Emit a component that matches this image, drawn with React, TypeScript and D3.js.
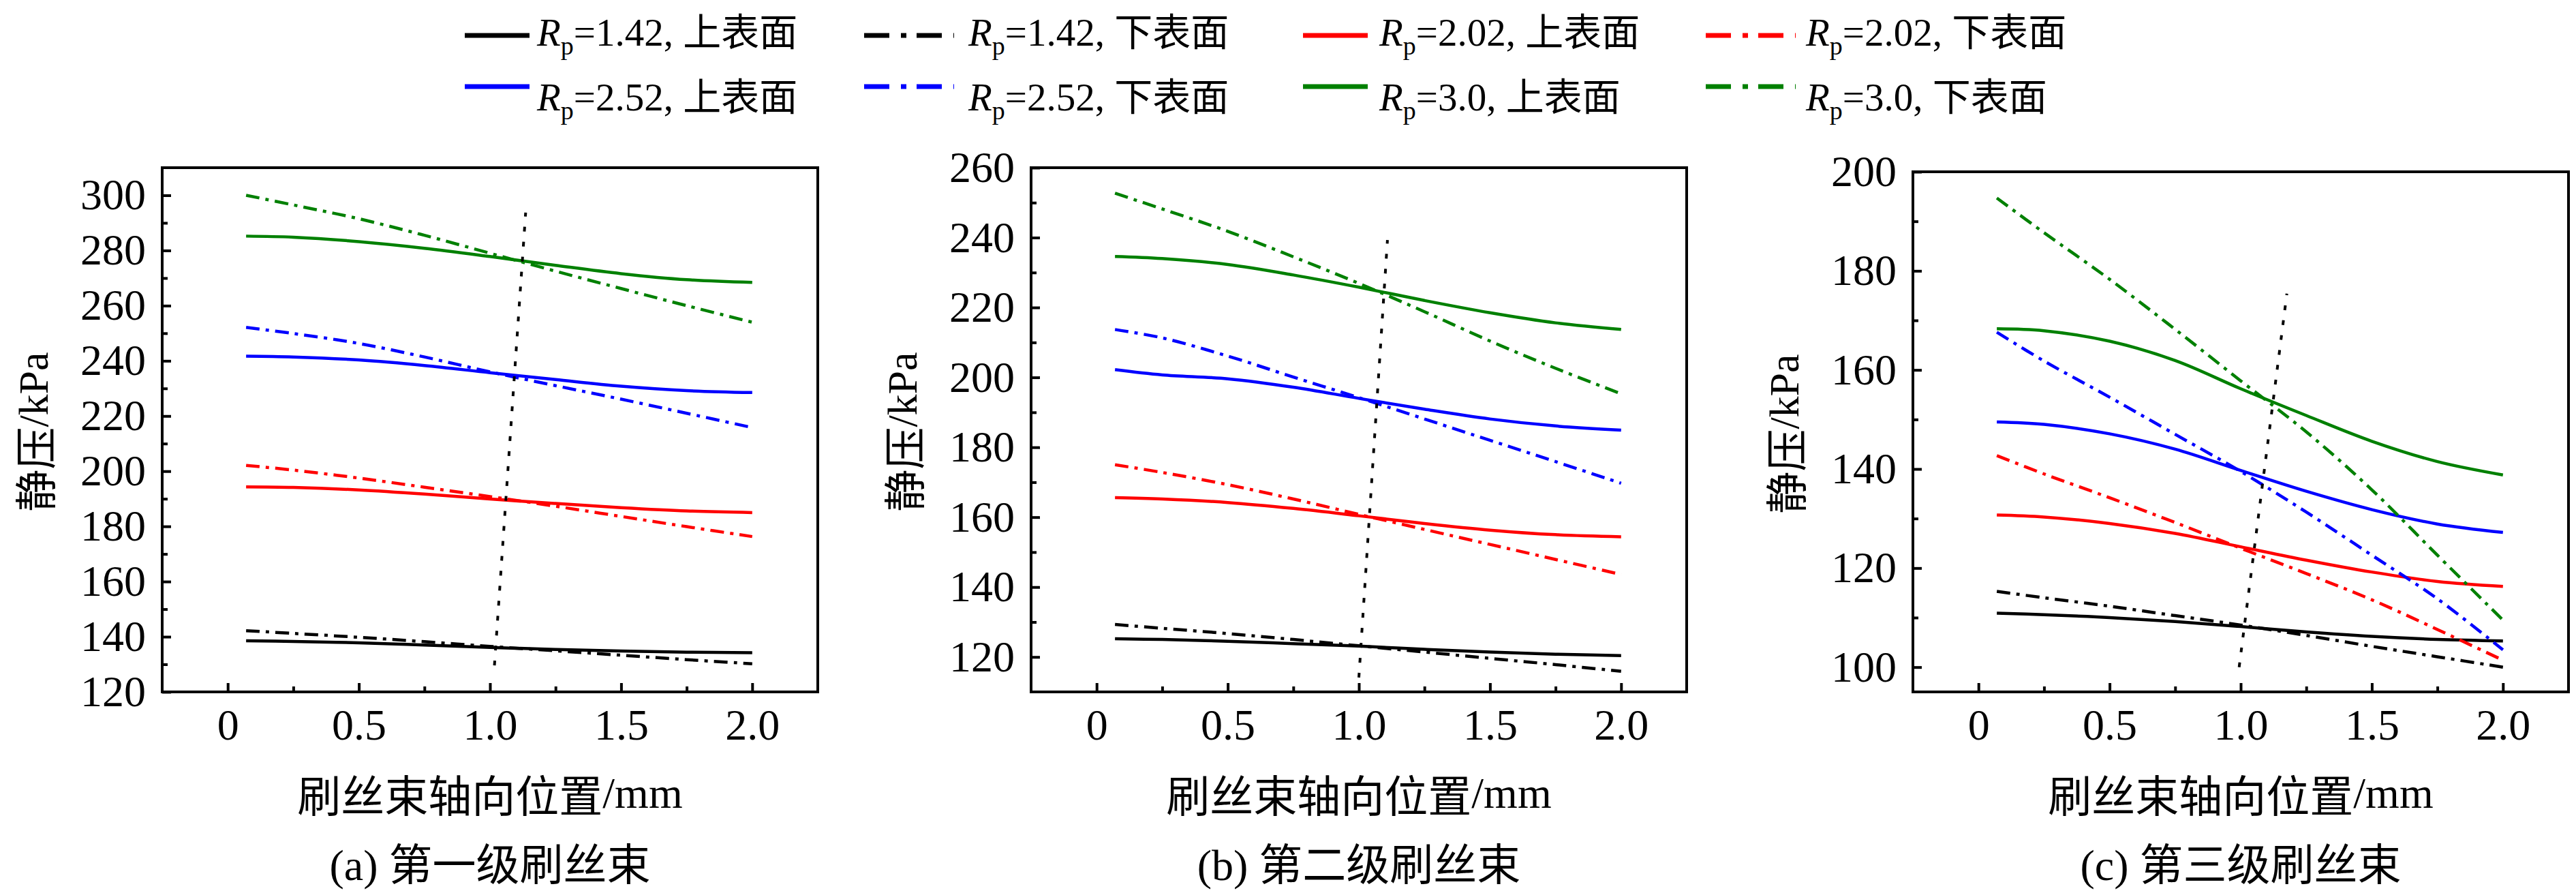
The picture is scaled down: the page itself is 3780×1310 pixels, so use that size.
import * as d3 from 'd3'
import { useEffect, useRef } from 'react'

const SERIF = '"Liberation Serif", "Times New Roman", "Noto Sans CJK SC", serif'
const CJK = '"Noto Sans CJK SC", sans-serif'

const positions = [0.07, 0.25, 0.5, 0.75, 1.0, 1.25, 1.5, 1.75, 2.0]
const xMajorTicks = [0, 0.5, 1.0, 1.5, 2.0]
const xMinorTicks = [0.25, 0.75, 1.25, 1.75]
const xTickLabels = ['0', '0.5', '1.0', '1.5', '2.0']

const ratios = ['1.42', '2.02', '2.52', '3.0']
const ratioColors = ['#000000', '#ff0000', '#0000ff', '#008000']
const surfaces = ['上表面', '下表面']

// (a) first stage, kPa
const stage1Upper142 = [138.5, 138.3, 137.8, 137.0, 136.1, 135.4, 134.8, 134.4, 134.2]
const stage1Lower142 = [142.2, 141.2, 139.8, 138.2, 136.5, 134.9, 133.3, 131.7, 130.2]
const stage1Upper202 = [194.3, 194.1, 193.2, 191.7, 189.9, 188.3, 186.8, 185.6, 185.0]
const stage1Lower202 = [202.1, 200.4, 197.5, 194.2, 190.8, 187.3, 183.6, 179.9, 176.3]
const stage1Upper252 = [241.7, 241.4, 240.3, 238.3, 235.7, 233.2, 230.8, 229.2, 228.5]
const stage1Lower252 = [252.1, 249.9, 246.3, 241.4, 236.0, 231.0, 226.1, 221.0, 215.8]
const stage1Upper30 = [285.2, 284.8, 283.2, 280.8, 277.8, 274.6, 271.6, 269.4, 268.4]
const stage1Lower30 = [300.0, 296.5, 291.5, 285.5, 279.0, 272.5, 266.2, 260.0, 254.0]
const stage1GuideX = [1.017, 1.136]
const stage1GuideY = [129.6, 293.7]
const stage1YTicks = [120, 140, 160, 180, 200, 220, 240, 260, 280, 300]
const stage1YMinor = [130, 150, 170, 190, 210, 230, 250, 270, 290]

// (b) second stage, kPa
const stage2Upper142 = [125.2, 125.0, 124.5, 123.8, 123.1, 122.2, 121.4, 120.8, 120.4]
const stage2Lower142 = [129.3, 128.2, 126.7, 125.0, 123.2, 121.4, 119.6, 117.8, 115.9]
const stage2Upper202 = [165.6, 165.2, 164.2, 162.5, 160.4, 158.2, 156.3, 155.0, 154.4]
const stage2Lower202 = [175.0, 172.8, 169.3, 165.2, 160.8, 156.5, 152.2, 147.9, 143.6]
const stage2Upper252 = [202.2, 200.7, 199.6, 197.2, 194.0, 190.9, 188.1, 186.1, 184.9]
const stage2Lower252 = [213.7, 211.3, 206.1, 200.1, 194.2, 188.1, 182.0, 175.9, 169.7]
const stage2Upper30 = [234.6, 234.0, 232.3, 229.3, 225.8, 222.0, 218.5, 215.6, 213.7]
const stage2Lower30 = [252.7, 248.2, 241.8, 234.5, 226.9, 218.8, 210.4, 202.6, 195.3]
const stage2GuideX = [1.0, 1.109]
const stage2GuideY = [114.1, 239.3]
const stage2YTicks = [120, 140, 160, 180, 200, 220, 240, 260]
const stage2YMinor = [130, 150, 170, 190, 210, 230, 250]

// (c) third stage, kPa
const stage3Upper142 = [110.9, 110.6, 110.0, 109.2, 108.2, 107.1, 106.2, 105.6, 105.3]
const stage3Lower142 = [115.3, 114.0, 112.3, 110.4, 108.5, 106.4, 104.2, 102.1, 100.0]
const stage3Upper202 = [130.7, 130.3, 129.0, 127.0, 124.3, 121.6, 119.2, 117.3, 116.3]
const stage3Lower202 = [142.7, 139.0, 134.2, 129.2, 124.0, 118.9, 113.6, 107.6, 101.4]
const stage3Upper252 = [149.5, 149.0, 147.1, 144.0, 139.7, 135.5, 131.8, 128.9, 127.2]
const stage3Lower252 = [167.6, 161.8, 154.5, 147.0, 139.5, 131.3, 122.6, 113.8, 103.5]
const stage3Upper30 = [168.3, 167.9, 165.8, 161.9, 156.2, 150.8, 145.6, 141.5, 138.8]
const stage3Lower30 = [194.7, 187.7, 178.3, 168.2, 157.8, 147.5, 135.8, 122.6, 109.5]
const stage3GuideX = [0.994, 1.176]
const stage3GuideY = [100.0, 175.4]
const stage3YTicks = [100, 120, 140, 160, 180, 200]
const stage3YMinor = [110, 130, 150, 170, 190]

const FRAME_W = 962
const FRAME_BOTTOM = 1015
const DASH_DOT = '20 9 5 9'

interface PanelProps {
  left: number
  top: number
  yDomain: [number, number]
  yTicks: number[]
  yMinor: number[]
  upper: number[][]
  lower: number[][]
  guideX: number[]
  guideY: number[]
  caption: string
}

function Panel({ left, top, yDomain, yTicks, yMinor, upper, lower, guideX, guideY, caption }: PanelProps) {
  const right = left + FRAME_W
  const bottom = FRAME_BOTTOM
  const x = d3.scaleLinear([-0.25, 2.25], [left, right])
  const y = d3.scaleLinear(yDomain, [bottom, top])
  const line = d3
    .line<number>((_, i) => x(positions[i]), (d) => y(d))
    .curve(d3.curveCatmullRom.alpha(0.5))
  const guide = d3.line<number>((d) => x(d), (_, i) => y(guideY[i]))

  const gxRef = useRef<SVGGElement>(null)
  const gxMinorRef = useRef<SVGGElement>(null)
  const gyRef = useRef<SVGGElement>(null)
  const gyMinorRef = useRef<SVGGElement>(null)

  useEffect(() => {
    const gx = gxRef.current
    const gxm = gxMinorRef.current
    const gy = gyRef.current
    const gym = gyMinorRef.current
    if (!gx || !gxm || !gy || !gym) {
      return
    }

    const style = (sel: d3.Selection<SVGGElement, unknown, null, undefined>) => {
      sel.select('.domain').remove()
      sel.attr('font-size', 64).attr('font-family', SERIF)
      sel.selectAll('line').attr('stroke-width', 4)
      sel.selectAll('text').attr('fill', '#000')
    }

    d3.select(gx)
      .call(
        d3
          .axisBottom(x)
          .tickValues(xMajorTicks)
          .tickFormat((_, i) => xTickLabels[i])
          .tickSize(-13)
          .tickPadding(25),
      )
      .call(style)
    d3.select(gxm)
      .call(d3.axisBottom(x).tickValues(xMinorTicks).tickFormat(() => '').tickSize(-8))
      .call(style)
    d3.select(gy)
      .call(d3.axisLeft(y).tickValues(yTicks).tickFormat(d3.format('d')).tickSize(-13).tickPadding(24))
      .call(style)
    d3.select(gym)
      .call(d3.axisLeft(y).tickValues(yMinor).tickFormat(() => '').tickSize(-8))
      .call(style)
  }, [x, y, yTicks, yMinor])

  const cx = (left + right) / 2

  return (
    <g>
      <g ref={gxRef} transform={`translate(0,${bottom})`} />
      <g ref={gxMinorRef} transform={`translate(0,${bottom})`} />
      <g ref={gyRef} transform={`translate(${left},0)`} />
      <g ref={gyMinorRef} transform={`translate(${left},0)`} />

      {upper.map((values, i) => (
        <path key={`u${i}`} d={line(values) || undefined} fill="none" stroke={ratioColors[i]} strokeWidth={4.5} />
      ))}
      {lower.map((values, i) => (
        <path
          key={`l${i}`}
          d={line(values) || undefined}
          fill="none"
          stroke={ratioColors[i]}
          strokeWidth={4.5}
          strokeDasharray={DASH_DOT}
        />
      ))}
      <path d={guide(guideX) || undefined} fill="none" stroke="#000" strokeWidth={4} strokeDasharray="7 15" />

      <rect x={left} y={top} width={FRAME_W} height={bottom - top} fill="none" stroke="#000" strokeWidth={4} />

      <text
        transform={`translate(${left - 189},${(top + bottom) / 2 + 3}) rotate(-90)`}
        textAnchor="middle"
        dominantBaseline="central"
        fontFamily={SERIF}
        fontSize={62}
      >
        <tspan fontFamily={CJK}>静压</tspan>
        <tspan>/kPa</tspan>
      </text>
      <text x={cx} y={1163} textAnchor="middle" dominantBaseline="central" fontFamily={SERIF} fontSize={64}>
        <tspan fontFamily={CJK}>刷丝束轴向位置</tspan>
        <tspan>/mm</tspan>
      </text>
      <text x={cx} y={1269} textAnchor="middle" dominantBaseline="central" fontFamily={SERIF} fontSize={64}>
        {caption}
      </text>
    </g>
  )
}

// legend layout: four columns, two rows
const legendSymbolX = [682, 1268, 1912, 2503]
const legendTextX = [788, 1421, 2024, 2650]
const legendLineY = [52, 127]
const legendBaseY = [67, 162]

function Legend() {
  const rows = [
    [0, 1],
    [2, 3],
  ]
  return (
    <g>
      {rows.map((pair, r) =>
        pair.flatMap((ri, k) =>
          surfaces.map((surface, s) => {
            const col = k * 2 + s
            const x0 = legendSymbolX[col]
            const len = s === 0 ? 95 : 132
            return (
              <g key={`${r}-${col}`}>
                <line
                  x1={x0}
                  x2={x0 + len}
                  y1={legendLineY[r]}
                  y2={legendLineY[r]}
                  stroke={ratioColors[ri]}
                  strokeWidth={7}
                  strokeDasharray={s === 0 ? undefined : '37 17 8 15'}
                />
                <text x={legendTextX[col]} y={legendBaseY[r]} fontFamily={SERIF} fontSize={57}>
                  <tspan fontStyle="italic">R</tspan>
                  <tspan fontSize={38} dy={13}>
                    p
                  </tspan>
                  <tspan dy={-13}>{`=${ratios[ri]}, `}</tspan>
                  <tspan fontFamily={CJK} fontSize={56}>
                    {surface}
                  </tspan>
                </text>
              </g>
            )
          }),
        ),
      )}
    </g>
  )
}

export default function App() {
  return (
    <svg
      width={3780}
      height={1310}
      viewBox="0 0 3780 1310"
      style={{ position: 'absolute', left: 0, top: 0, background: '#fff' }}
    >
      <rect width={3780} height={1310} fill="#fff" />
      <Legend />
      <Panel
        left={238}
        top={246}
        yDomain={[120, 310]}
        yTicks={stage1YTicks}
        yMinor={stage1YMinor}
        upper={[stage1Upper142, stage1Upper202, stage1Upper252, stage1Upper30]}
        lower={[stage1Lower142, stage1Lower202, stage1Lower252, stage1Lower30]}
        guideX={stage1GuideX}
        guideY={stage1GuideY}
        caption="(a) 第一级刷丝束"
      />
      <Panel
        left={1513}
        top={246}
        yDomain={[110, 260]}
        yTicks={stage2YTicks}
        yMinor={stage2YMinor}
        upper={[stage2Upper142, stage2Upper202, stage2Upper252, stage2Upper30]}
        lower={[stage2Lower142, stage2Lower202, stage2Lower252, stage2Lower30]}
        guideX={stage2GuideX}
        guideY={stage2GuideY}
        caption="(b) 第二级刷丝束"
      />
      <Panel
        left={2807}
        top={252}
        yDomain={[95, 200]}
        yTicks={stage3YTicks}
        yMinor={stage3YMinor}
        upper={[stage3Upper142, stage3Upper202, stage3Upper252, stage3Upper30]}
        lower={[stage3Lower142, stage3Lower202, stage3Lower252, stage3Lower30]}
        guideX={stage3GuideX}
        guideY={stage3GuideY}
        caption="(c) 第三级刷丝束"
      />
    </svg>
  )
}
